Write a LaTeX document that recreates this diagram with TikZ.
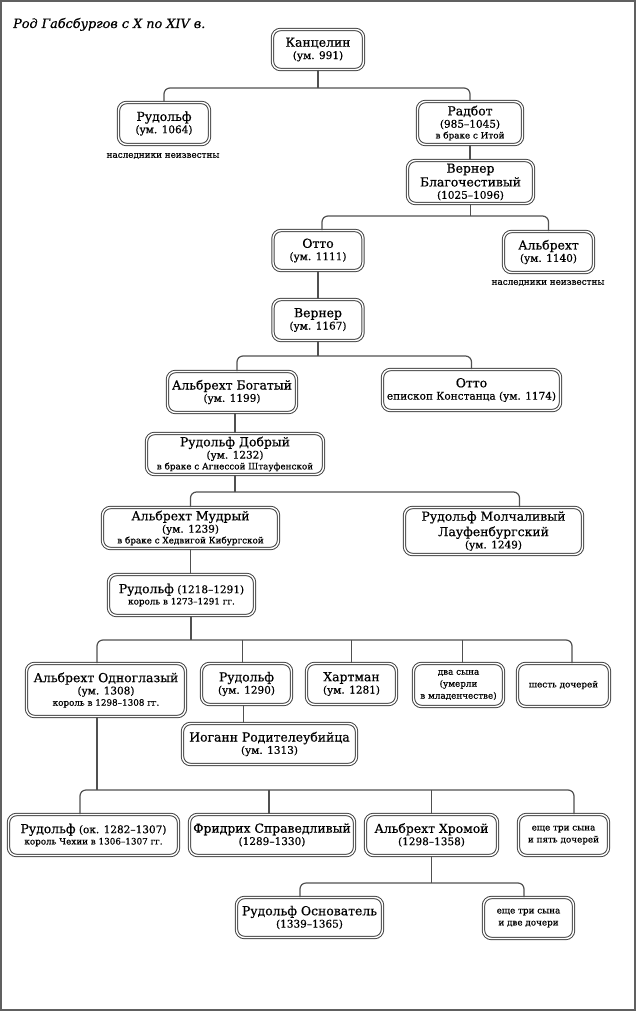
\documentclass[tikz,border=0pt]{standalone}
\usepackage{fontspec}
\setmainfont{DejaVu Serif}[FakeBold=0.6]
\definecolor{boxc}{HTML}{454545}
\definecolor{linec}{HTML}{505050}
\definecolor{framec}{HTML}{606060}
\newcommand\nmf{\fontsize{12.4}{14}\selectfont}
\newcommand\smf{\fontsize{8.8}{11}\selectfont}
\begin{document}
\begin{tikzpicture}[x=1pt,y=-1pt,
  fam/.style={draw=boxc, line width=1pt, double=white, double distance=1.4pt,
    rounded corners=8pt, align=center, inner sep=1pt,
    font=\fontsize{10.5}{12.3}\selectfont, text=black},
  conn/.style={draw=linec, line width=1.2pt, rounded corners=6pt},
  note/.style={font=\smf, inner sep=0pt, text=black},
  frame/.style={draw=framec, line width=1.4pt}]
\useasboundingbox (0,0) rectangle (636,1011);
\draw[frame] (1,1) rectangle (635,1010);
\node[anchor=base west, font=\itshape\fontsize{12.8}{14}\selectfont, inner sep=0pt] (title) at (13,28) {Род Габсбургов с X по XIV в.};

% nodes
\node[fam, minimum width=91pt, minimum height=40pt] (kanc) at (318,49.5) {{\nmf Канцелин}\\(ум. 991)};
\node[fam, minimum width=91pt, minimum height=42pt] (rud1) at (164,123.5) {{\nmf Рудольф}\\(ум. 1064)};
\node[note] (nn1) at (163,156) {наследники неизвестны};
\node[fam, minimum width=105pt, minimum height=43pt] (rad) at (470,123) {{\nmf Радбот}\\(985–1045)\\[-1.5pt]{\smf в браке с Итой}};
\node[fam, minimum width=126pt, minimum height=43pt] (wb) at (470.5,182) {{\nmf Вернер}\\[1.5pt]{\nmf Благочестивый}\\(1025–1096)};
\node[fam, minimum width=90pt, minimum height=40pt] (otto1) at (318,250.5) {{\nmf Отто}\\(ум. 1111)};
\node[fam, minimum width=90pt, minimum height=41pt] (alb1) at (548.5,252) {{\nmf Альбрехт}\\(ум. 1140)};
\node[note] (nn2) at (548,283) {наследники неизвестны};
\node[fam, minimum width=90pt, minimum height=41pt] (wern) at (318,320) {{\nmf Вернер}\\(ум. 1167)};
\node[fam, minimum width=129pt, minimum height=41pt] (ab) at (232,392) {{\nmf Альбрехт Богатый}\\(ум. 1199)};
\node[fam, minimum width=178pt, minimum height=41pt] (ob) at (471.5,390) {{\nmf Отто}\\епископ Констанца (ум. 1174)};
\node[fam, minimum width=177pt, minimum height=41pt] (rd) at (235,454) {{\nmf Рудольф Добрый}\\(ум. 1232)\\[-1.5pt]{\smf в браке с Агнессой Штауфенской}};
\node[fam, minimum width=176pt, minimum height=41pt] (am) at (190.5,528) {{\nmf Альбрехт Мудрый}\\(ум. 1239)\\[-1.5pt]{\smf в браке с Хедвигой Кибургской}};
\node[fam, minimum width=178pt, minimum height=47pt] (rm) at (493.5,531) {{\nmf Рудольф Молчаливый}\\[2pt]{\nmf Лауфенбургский}\\(ум. 1249)};
\node[fam, minimum width=146pt, minimum height=41pt] (rk) at (181.5,595) {{\nmf Рудольф} (1218–1291)\\[-1pt]{\smf король в 1273–1291 гг.}};
\node[fam, minimum width=159pt, minimum height=53pt] (ao) at (106,690) {{\nmf Альбрехт Одноглазый}\\(ум. 1308)\\[-1pt]{\smf король в 1298–1308 гг.}};
\node[fam, minimum width=90pt, minimum height=41pt] (r1290) at (246.5,684) {{\nmf Рудольф}\\(ум. 1290)};
\node[fam, minimum width=174pt, minimum height=41pt] (ioh) at (269.5,744) {{\nmf Иоганн Родителеубийца}\\(ум. 1313)};
\node[fam, minimum width=90pt, minimum height=41pt] (hart) at (351.5,684) {{\nmf Хартман}\\(ум. 1281)};
\node[fam, minimum width=90pt, minimum height=43pt, font=\fontsize{8.8}{12}\selectfont] (dva) at (458.5,685) {два сына\\(умерли\\в младенчестве)};
\node[fam, minimum width=92pt, minimum height=43pt, font=\smf] (six) at (563.5,685) {шесть дочерей};
\node[fam, minimum width=170pt, minimum height=41pt] (rok) at (93.5,835) {{\nmf Рудольф} (ок. 1282–1307)\\[-1pt]{\smf король Чехии в 1306–1307 гг.}};
\node[fam, minimum width=165pt, minimum height=41pt] (fr) at (272,835) {{\nmf Фридрих Справедливый}\\(1289–1330)};
\node[fam, minimum width=132pt, minimum height=41pt] (ah) at (431.5,835) {{\nmf Альбрехт Хромой}\\(1298–1358)};
\node[fam, minimum width=90pt, minimum height=41pt, font=\fontsize{8.8}{12}\selectfont] (e3p) at (563.5,835) {еще три сына\\и пять дочерей};
\node[fam, minimum width=146pt, minimum height=40pt] (ro) at (309.5,917.5) {{\nmf Рудольф Основатель}\\(1339–1365)};
\node[fam, minimum width=90pt, minimum height=41pt, font=\fontsize{8.8}{12}\selectfont] (e3d) at (528.5,918) {еще три сына\\и две дочери};

% connectors
\coordinate (b1) at (0,88);
\draw[conn] (kanc.south) -- (kanc.south |- b1);
\draw[conn] (rud1.north) |- (rad.north |- b1) -- (rad.north);
\draw[conn] (rad.south) -- (rad.south |- wb.north);

\coordinate (b2) at (0,216);
\draw[conn] (wb.south) -- (wb.south |- b2);
\coordinate (d2a) at ([xshift=4pt]otto1.north);
\draw[conn] (d2a) |- (alb1.north |- b2) -- (alb1.north);
\draw[conn] (otto1.south) -- (wern.north);

\coordinate (b3) at (0,356);
\draw[conn] (wern.south) -- (wern.south |- b3);
\coordinate (d3a) at ([xshift=5pt]ab.north);
\draw[conn] (d3a) |- (ob.north |- b3) -- (ob.north);
\draw[conn] (rd.north) -- (rd.north |- ab.south);

\coordinate (b4) at (0,492);
\draw[conn] (rd.south) -- (rd.south |- b4);
\coordinate (d4b) at ([xshift=26pt]rm.north);
\draw[conn] (am.north) |- (d4b |- b4) -- (d4b);
\draw[conn] (am.south) -- (am.south |- rk.north);

\coordinate (b5) at (0,640);
\coordinate (d5o) at ([xshift=9.5pt]rk.south);
\draw[conn] (d5o) -- (d5o |- b5);
\coordinate (d5a) at ([xshift=-9pt]ao.north);
\coordinate (d5e) at ([xshift=8.5pt]six.north);
\draw[conn] (d5a) |- (d5e |- b5) -- (d5e);
\coordinate (d5b) at ([xshift=-4pt]r1290.north);
\draw[conn] (d5b) -- (d5b |- b5);
\draw[conn] (hart.north) -- (hart.north |- b5);
\coordinate (d5d) at ([xshift=4pt]dva.north);
\draw[conn] (d5d) -- (d5d |- b5);
\coordinate (d5i) at ([xshift=-3pt]r1290.south);
\draw[conn] (d5i) -- (d5i |- ioh.north);

\coordinate (b6) at (0,790);
\coordinate (d6o) at ([xshift=-9pt]ao.south);
\draw[conn] (d6o) -- (d6o |- b6);
\coordinate (d6a) at ([xshift=-13.5pt]rok.north);
\coordinate (d6d) at ([xshift=10.5pt]e3p.north);
\draw[conn] (d6a) |- (d6d |- b6) -- (d6d);
\coordinate (d6b) at ([xshift=-3pt]fr.north);
\draw[conn] (d6b) -- (d6b |- b6);
\draw[conn] (ah.north) -- (ah.north |- b6);

\coordinate (b7) at (0,883);
\draw[conn] (ah.south) -- (ah.south |- b7);
\coordinate (d7a) at ([xshift=-9.5pt]ro.north);
\coordinate (d7b) at ([xshift=-4.5pt]e3d.north);
\draw[conn] (d7a) |- (d7b |- b7) -- (d7b);
\end{tikzpicture}
\end{document}
